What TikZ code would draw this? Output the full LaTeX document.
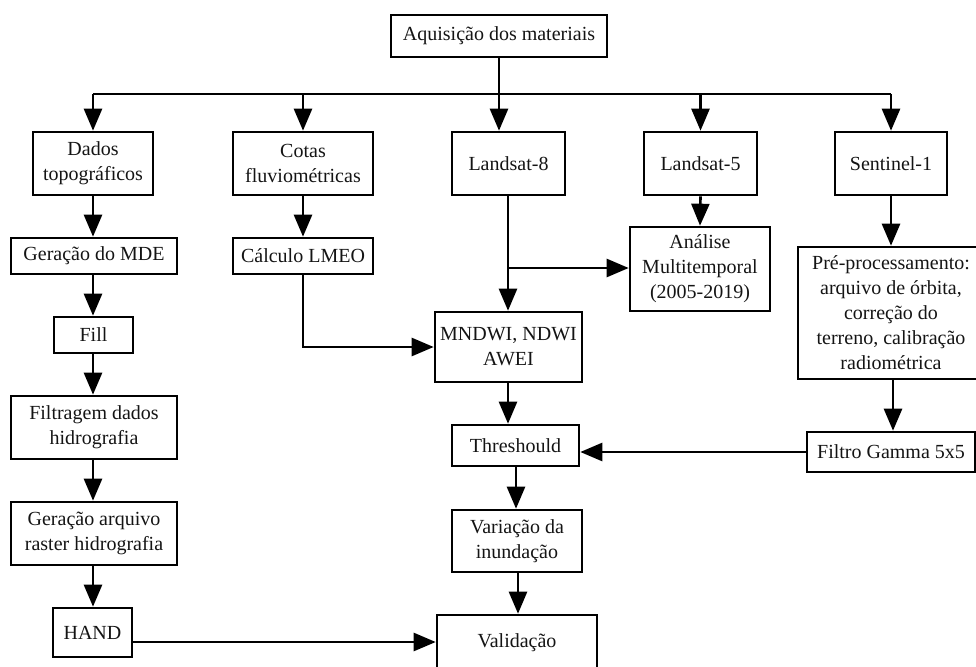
\documentclass[tikz,border=0pt]{standalone}
\usepackage{fontspec}
\setmainfont{Liberation Serif}
\usetikzlibrary{arrows.meta}
\newcommand\bx[6]{\node[box,minimum width={#4pt-#2pt},minimum height={#5pt-#3pt}] (#1) at ({(#2+#4)/2},{(#3+#5)/2}) {#6};}
\begin{document}
\begin{tikzpicture}[x=1pt,y=-1pt,
  box/.style={draw=black, line width=2.6pt, inner sep=0pt, align=center,
    font=\fontsize{20}{25}\selectfont, text=black!92},
  conn/.style={line width=2.6pt},
  arr/.style={conn, -{Triangle[length=22pt,width=18pt]}}]
\useasboundingbox (0,0) rectangle (976,666);

\bx{aq}{391}{15}{607}{57}{Aquisição dos materiais}
\bx{dados}{33}{132}{153}{195}{Dados\\topográficos}
\bx{cotas}{233}{132}{373}{195}{Cotas\\fluviométricas}
\bx{lO}{452}{132}{565}{195}{Landsat-8}
\bx{lF}{644}{132}{757}{195}{Landsat-5}
\bx{sI}{835}{132}{947}{195}{Sentinel-1}
\bx{mde}{11}{238}{177}{274}{Geração do MDE}
\bx{lmeo}{233}{238}{373}{274}{Cálculo LMEO}
\bx{fill}{54}{317}{133}{353}{Fill}
\bx{filt}{11}{396}{177}{459}{Filtragem dados\\hidrografia}
\bx{raster}{11}{502}{177}{565}{Geração arquivo\\raster hidrografia}
\bx{hand}{53}{608}{132}{657}{HAND}
\bx{anal}{630}{227}{770}{311}{Análise\\Multitemporal\\(2005-2019)}
\bx{mndwi}{435}{312}{582}{382}{MNDWI, NDWI\\AWEI}
\bx{pre}{798}{247}{984}{379}{Pré-processamento:\\arquivo de órbita,\\correção do\\terreno, calibração\\radiométrica}
\bx{thr}{452}{425}{579}{466}{Threshould}
\bx{gamma}{807}{432}{975}{472}{Filtro Gamma 5x5}
\bx{var}{452}{510}{582}{572}{Variação da\\inundação}
\bx{val}{437}{615}{597}{670}{Validação}

% top bus
\coordinate (bus) at (499,94);
\draw[conn] (aq.south -| bus) -- (bus);
\draw[conn] (bus -| dados.north) -- (bus -| sI.north);
\draw[arr] (bus -| dados.north) -- (dados.north);
\draw[arr] (bus -| cotas.north) -- (cotas.north);
\draw[arr] (bus) -- (bus |- lO.north);
\draw[arr] (bus -| lF.north) -- (lF.north);
\draw[arr] (bus -| sI.north) -- (sI.north);

% left column
\draw[arr] (dados.south) -- (dados.south |- mde.north);
\draw[arr] (dados.south |- mde.south) -- (dados.south |- fill.north);
\draw[arr] (dados.south |- fill.south) -- (dados.south |- filt.north);
\draw[arr] (dados.south |- filt.south) -- (dados.south |- raster.north);
\draw[arr] (dados.south |- raster.south) -- (dados.south |- hand.north);
\coordinate (hy) at (132,642);
\draw[arr] (hy -| hand.east) -- (hy -| val.west);

% cotas column
\draw[arr] (cotas.south) -- (lmeo.north);
\draw[arr] (lmeo.south) |- (mndwi.west);

% landsat
\coordinate (br) at (508,268);
\draw[arr] (br |- lO.south) -- (br |- mndwi.north);
\draw[arr] (br) -- (br -| anal.west);
\draw[arr] (lF.south) -- (anal.north);

% sentinel
\draw[arr] (sI.south) -- (sI.south |- pre.north);
\coordinate (gx) at (893,0);
\draw[arr] (gx |- pre.south) -- (gx |- gamma.north);
\draw[arr] (gamma.west) -- (gamma.west -| thr.east);

% center chain
\draw[arr] (br |- mndwi.south) -- (br |- thr.north);
\coordinate (tx) at (516,0);
\draw[arr] (tx |- thr.south) -- (tx |- var.north);
\coordinate (vx) at (518,0);
\draw[arr] (vx |- var.south) -- (vx |- val.north);
\end{tikzpicture}
\end{document}
